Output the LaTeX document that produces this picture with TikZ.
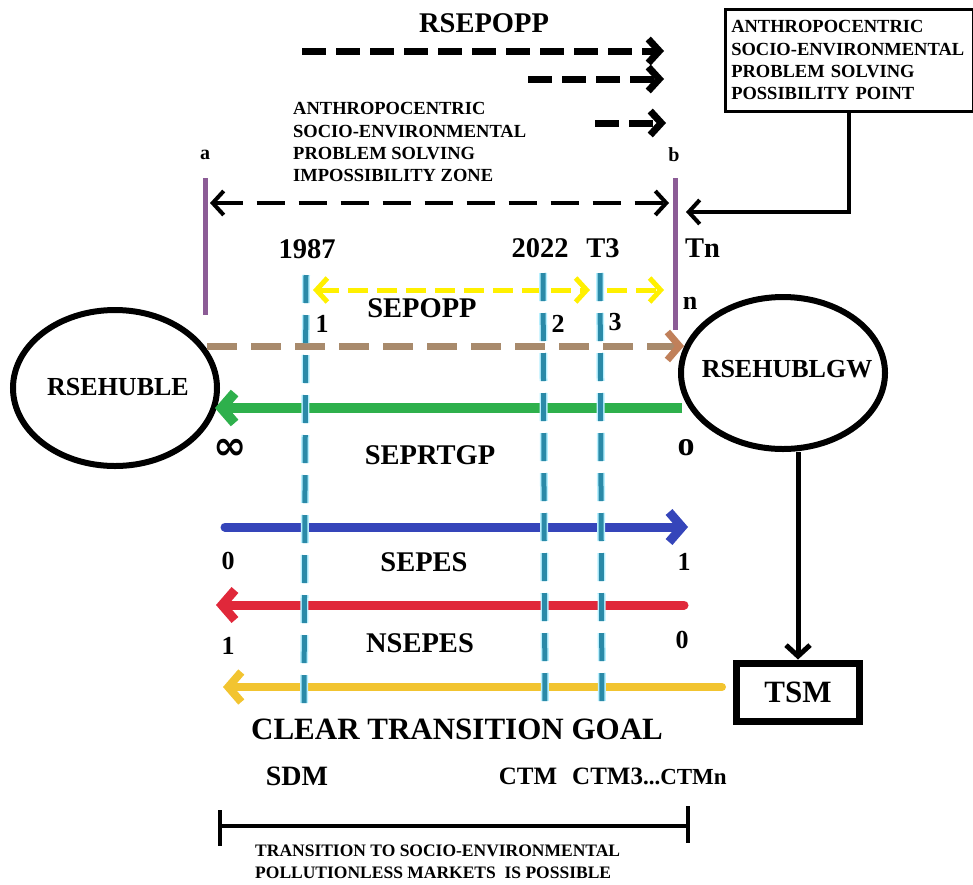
\documentclass[tikz,border=0pt]{standalone}
\usepackage{fontspec}
\setmainfont{Liberation Serif}
\newfontfamily\symfont{DejaVu Sans}
\usetikzlibrary{arrows.meta,shapes.geometric}
\definecolor{tealc}{HTML}{2A8AA8}
\definecolor{halo}{HTML}{B8F0FF}
\definecolor{purp}{HTML}{8C5C96}
\definecolor{yel}{HTML}{FFF000}
\definecolor{brn}{HTML}{A88A6C}
\definecolor{brntip}{HTML}{C0805A}
\definecolor{grn}{HTML}{2EB04C}
\definecolor{blu}{HTML}{3545BA}
\definecolor{rd}{HTML}{E0283A}
\definecolor{gld}{HTML}{F2C430}
\tikzset{
  barbS/.tip={Straight Barb[length=11pt,width=24pt]},
  barbL/.tip={Straight Barb[length=13pt,width=30pt]},
  lbl/.style={font=\bfseries\fontsize{28.5}{32}\selectfont, inner sep=0pt},
  lblell/.style={font=\bfseries\fontsize{26}{30}\selectfont, inner sep=0pt},
  lblnum/.style={font=\bfseries\fontsize{26}{30}\selectfont, inner sep=0pt},
  lblbig/.style={font=\bfseries\fontsize{31}{34}\selectfont, inner sep=0pt},
  lblmid/.style={font=\bfseries\fontsize{25}{28}\selectfont, inner sep=0pt},
  lblsm/.style={font=\bfseries\fontsize{20}{24}\selectfont, inner sep=0pt},
  small/.style={font=\bfseries\fontsize{18.5}{22.3}\selectfont, inner sep=0pt, align=left},
  smaller/.style={font=\bfseries\fontsize{17.5}{22}\selectfont, inner sep=0pt, align=left},
  blkdash/.style={draw=black, line width=7pt, dash pattern=on 24pt off 10pt, -barbS},
  tealline/.style={draw=tealc, line width=5pt, dash pattern=on 28pt off 12pt},
  tealhalo/.style={draw=halo, line width=8pt, dash pattern=on 28pt off 12pt},
  colarrow/.style={line width=9pt, line cap=round},
  purpline/.style={draw=purp, line width=5pt},
}
\begin{document}
\begin{tikzpicture}[x=1pt,y=-1pt]
\useasboundingbox (0,0) rectangle (973,884);

% ---- top RSEPOPP area
\node[lbl] (rsepopp) at (484,23) {RSEPOPP};
\coordinate (t1s) at (302,51);  \coordinate (t1e) at (664,51);
\coordinate (t2s) at (528,79);  \coordinate (t2e) at (664,79);
\coordinate (t3s) at (595,123); \coordinate (t3e) at (666,123);
\draw[blkdash] (t1s) -- (t1e);
\draw[blkdash] (t2s) -- (t2e);
\draw[blkdash] (t3s) -- (t3e);

\node[small, anchor=north west] (zone) at (293,102.5)
  {ANTHROPOCENTRIC\\SOCIO-ENVIRONMENTAL\\PROBLEM SOLVING\\IMPOSSIBILITY ZONE};

% ---- possibility point box
\node[small, draw, line width=2.5pt, anchor=north west, text width=236pt,
      inner xsep=6pt, inner ysep=6pt, minimum height=102pt] (ppbox) at (724,8)
  {ANTHROPOCENTRIC\\SOCIO-ENVIRONMENTAL\\PROBLEM SOLVING\\POSSIBILITY POINT};

% ---- a / b markers
\node[lblsm] (la) at (205,155) {a};
\node[lblsm] (lb) at (674,155) {b};
\coordinate (pa1) at (205,178); \coordinate (pa2) at (205,315);
\coordinate (pb1) at (675,178); \coordinate (pb2) at (675,330);
\draw[purpline] (pa1) -- (pa2);
\draw[purpline] (pb1) -- (pb2);

\coordinate (da) at (210,203); \coordinate (db) at (669,203);
\draw[line width=4pt, dash pattern=on 28pt off 14pt, barbS-barbS] (da) -- (db);

\coordinate (bp) at (686,212);
\draw[line width=4pt, -barbS] (ppbox.south) |- (bp);

% ---- year labels
\node[lbl] (y1987) at (307,249) {1987};
\node[lbl] (y2022) at (540,248) {2022};
\node[lbl] (yT3) at (603,248) {T3};
\node[lbl, anchor=west] (yTn) at (685,248) {Tn};
\node[lblnum] (ln) at (690,303) {n};

% ---- ellipses
\node[ellipse, draw, line width=6pt, minimum width=204pt, minimum height=156pt] (L) at (115,388) {};
\node[lblell] (Ltxt) at (118,387) {RSEHUBLE};
\node[ellipse, draw, line width=6pt, minimum width=204pt, minimum height=152pt] (R) at (783,373) {};
\node[lblell] (Rtxt) at (787,369) {RSEHUBLGW};

% ---- colored arrows
\coordinate (ys1) at (313,290); \coordinate (ye1) at (590,290);
\coordinate (ys2) at (607,290); \coordinate (ye2) at (664,290);
\draw[yel, line width=5pt, dash pattern=on 20pt off 9pt, barbS-barbS] (ys1) -- (ye1);
\draw[yel, line width=5pt, dash pattern=on 20pt off 9pt, -barbS] (ys2) -- (ye2);
\node[lbl] (sepopp) at (422,308) {SEPOPP};
\node[lblnum] (n1) at (322,324) {1};
\node[lblnum] (n2) at (558,324) {2};
\node[lblnum] (n3) at (615,322) {3};

\coordinate (brs) at (207,346); \coordinate (bre) at (684,346);
\draw[brn, line width=7pt, dash pattern=on 30pt off 14pt, -{Straight Barb[length=12pt,width=28pt,color=brntip]}] (brs) -- (bre);

\coordinate (gs) at (682,408); \coordinate (ge) at (215,408);
\draw[grn, line width=10pt, -barbL] (gs) -- (ge);
\node[font=\symfont\bfseries\fontsize{40}{42}\selectfont, inner sep=0pt] (inf) at (230,449) {∞};
\node[font=\bfseries\fontsize{34}{36}\selectfont, inner sep=0pt] (zero) at (686,448) {o};
\node[lbl] (seprtgp) at (430,455) {SEPRTGP};

\coordinate (bls) at (225,527); \coordinate (ble) at (688,527);
\draw[blu, colarrow, -barbL] (bls) -- (ble);
\node[lblnum] (b0) at (228,561) {0};
\node[lblnum] (b1) at (684,562) {1};
\node[lbl] (sepes) at (424,562) {SEPES};

\coordinate (rs) at (684,605); \coordinate (re) at (216,605);
\draw[rd, colarrow, -barbL] (rs) -- (re);
\node[lblnum] (r1) at (228,646) {1};
\node[lblnum] (r0) at (682,640) {0};
\node[lbl] (nsepes) at (420,643) {NSEPES};

% ---- TSM
\node[draw, line width=7pt, minimum width=123pt, minimum height=58pt,
      font=\bfseries\fontsize{31}{34}\selectfont, inner sep=0pt] (tsm) at (798,692) {TSM};
\draw[line width=5pt, -barbS] (R.south -| tsm.north) -- (tsm.north);

\coordinate (gds) at (722,687); \coordinate (gde) at (223,687);
\draw[gld, line width=8pt, line cap=round, -barbL] (gds) -- (gde);

% ---- teal vertical dashed lines
\coordinate (v1t) at (306,275); \coordinate (v1b) at (304,704);
\coordinate (v2t) at (543,273); \coordinate (v2b) at (545,704);
\coordinate (v3t) at (600,273); \coordinate (v3b) at (602,704);
\foreach \t/\b in {v1t/v1b, v2t/v2b, v3t/v3b}{
  \draw[tealhalo] (\t) -- (\b);
  \draw[tealline] (\t) -- (\b);
}

% ---- bottom texts
\node[lblbig] (ctg) at (457,729) {CLEAR TRANSITION GOAL};
\node[font=\bfseries\fontsize{28}{30}\selectfont, inner sep=0pt] (sdm) at (297,776) {SDM};
\node[lblmid] (ctm) at (528,776) {CTM};
\node[lblmid, anchor=west] (ctm3) at (572,776) {CTM3\fontsize{23}{26}\selectfont...CTMn};

\coordinate (bk1) at (220,810); \coordinate (bk2) at (220,846);
\coordinate (bk3) at (688,806); \coordinate (bk4) at (688,843);
\coordinate (bh1) at (220,826); \coordinate (bh2) at (688,826);
\draw[line width=4pt] (bk1) -- (bk2);
\draw[line width=4pt] (bk3) -- (bk4);
\draw[line width=4pt] (bh1) -- (bh2);

\node[smaller, anchor=north west] (trans) at (255,845)
  {TRANSITION TO SOCIO-ENVIRONMENTAL\\POLLUTIONLESS MARKETS\ \ IS POSSIBLE};
\end{tikzpicture}
\end{document}
